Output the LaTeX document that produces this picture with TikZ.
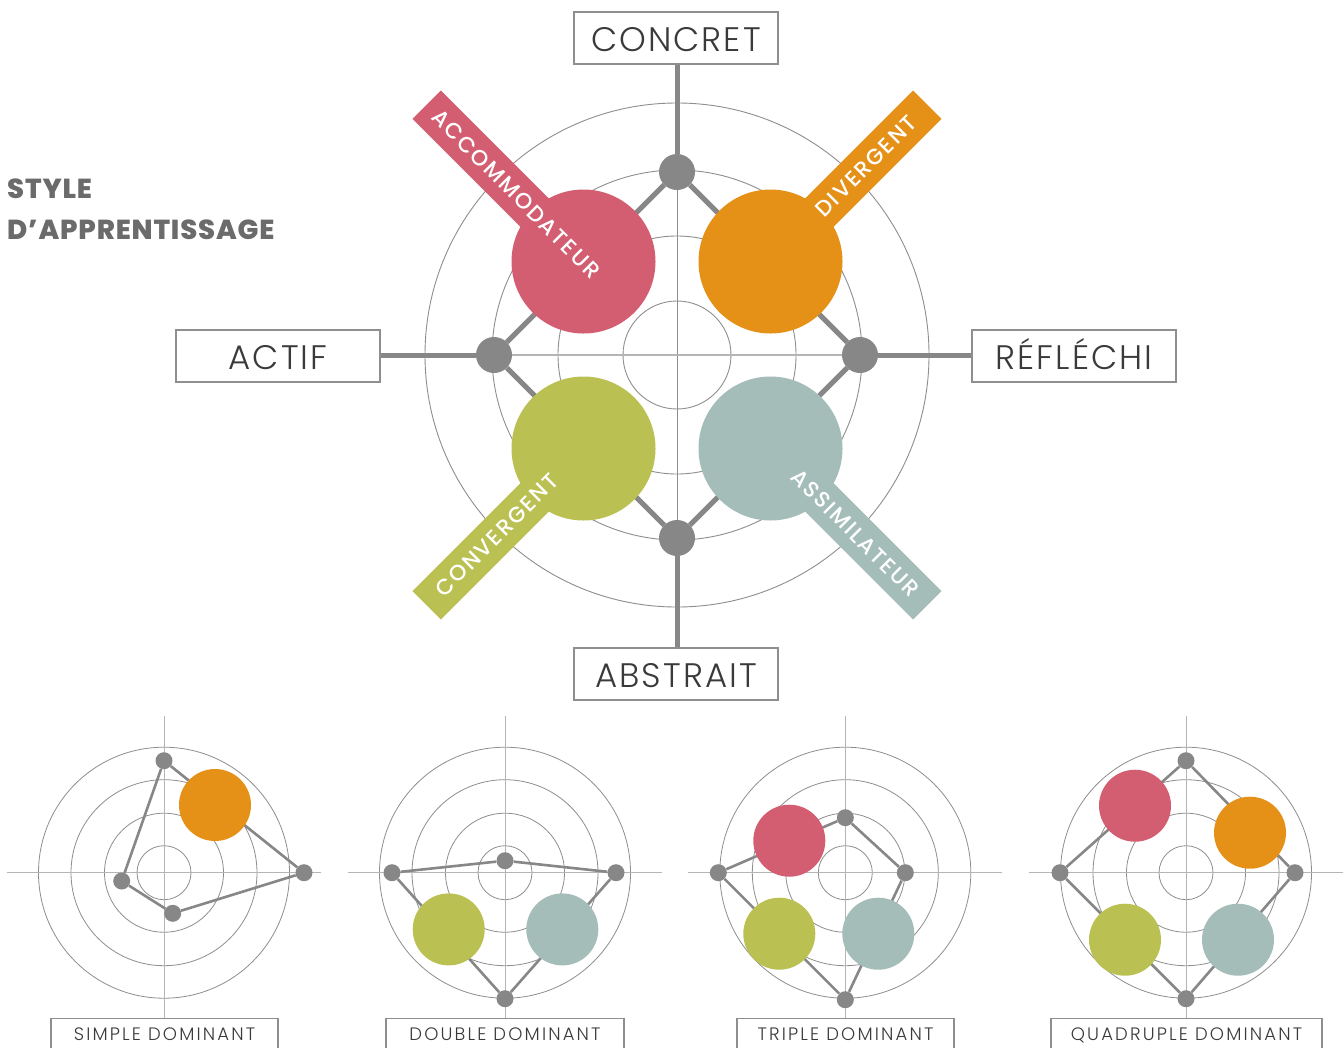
\documentclass[tikz,border=0pt]{standalone}
\usepackage{fontspec}
\setmainfont{Poppins}
\IfFontExistsTF{Poppins Light}{\newfontfamily\labelfont{Poppins Light}}{\newfontfamily\labelfont{Poppins}}
\IfFontExistsTF{Poppins Medium}{\newfontfamily\bandfont{Poppins Medium}}{\newfontfamily\bandfont{Poppins}}
\IfFontExistsTF{Poppins ExtraBold}{\newfontfamily\titlefont{Poppins ExtraBold}}{\newfontfamily\titlefont{Poppins}[UprightFont=*-Bold]}
\usetikzlibrary{calc}
\definecolor{pinkc}{HTML}{D45E71}
\definecolor{orangec}{HTML}{E59118}
\definecolor{greenc}{HTML}{BAC152}
\definecolor{tealc}{HTML}{A5BDB8}
\definecolor{dotc}{HTML}{878787}
\definecolor{linec}{HTML}{8E8E8E}
\definecolor{lightc}{HTML}{B5B5B5}
\definecolor{textc}{HTML}{3A3A3A}
\definecolor{titlec}{HTML}{6B6B6B}
\begin{document}
\begin{tikzpicture}[x=1pt,y=-1pt,
  ring/.style={draw=linec, line width=0.9pt},
  thinaxis/.style={draw=linec, line width=1pt},
  thickaxis/.style={draw=dotc, line width=5pt},
  diam/.style={draw=dotc, line width=5pt},
  bigdot/.style={circle, fill=dotc, inner sep=0pt, minimum size=36pt},
  smalldot/.style={circle, fill=dotc, inner sep=0pt, minimum size=17pt},
  bigdisc/.style={circle, inner sep=0pt, minimum size=144pt},
  smalldisc/.style={circle, inner sep=0pt, minimum size=72pt},
  band/.style={rectangle, inner sep=0pt, minimum width=223pt, minimum height=40pt},
  bandtext/.style={text=white, font=\bandfont\fontsize{22}{22}\selectfont\addfontfeatures{LetterSpace=8}, inner sep=0pt},
  bigbox/.style={draw=linec, line width=1.8pt, fill=white, minimum width=204pt, minimum height=52pt,
     inner sep=0pt, text height=27pt, text depth=0pt, text=textc,
     font=\labelfont\fontsize{34}{34}\selectfont\addfontfeatures{LetterSpace=6}},
  smallbox/.style={draw=linec, line width=1.2pt, fill=white, anchor=north, minimum height=32pt,
     inner sep=0pt, text height=12.5pt, text depth=0pt, text=textc,
     font=\labelfont\fontsize{18}{18}\selectfont\addfontfeatures{LetterSpace=12}},
  titletext/.style={anchor=base west, inner sep=0pt, text=titlec,
     font=\titlefont\fontsize{27.5}{27.5}\selectfont\addfontfeatures{LetterSpace=3}},
  sring/.style={draw=linec, line width=0.8pt},
  saxis/.style={draw=lightc, line width=1pt},
  sedge/.style={draw=dotc, line width=2.6pt}
]
\useasboundingbox (0,0) rectangle (1343,1047);
\fill[white] (0,0) rectangle (1343,1047);

% ---------- title ----------
\node[titletext] (title1) at (7,198) {STYLE};
\node[titletext] (title2) at (7,239) {D’APPRENTISSAGE};

% ---------- main chart ----------
\coordinate (C) at (677,355);
\foreach \r in {54,119,185,252} \draw[ring] (C) circle[radius=\r];

\node[bigbox] (concret) at (676,38) {CONCRET};
\node[bigbox] (actif) at (278,356) {ACTIF};
\node[bigbox] (reflechi) at (1074,356) {RÉFLÉCHI};
\node[bigbox] (abstrait) at (676,674) {ABSTRAIT};

\node[bigdot] (t) at (677,172) {};
\node[bigdot] (b) at (677,538) {};
\node[bigdot] (l) at (494,355) {};
\node[bigdot] (r) at (860,355) {};

\draw[thinaxis] (t) -- (b);
\draw[draw=lightc, line width=1.2pt] (l) -- (r);
\draw[thickaxis] (t |- concret.south) -- (t);
\draw[thickaxis] (b |- abstrait.north) -- (b);
\draw[thickaxis] (actif.east |- l) -- (l);
\draw[thickaxis] (reflechi.west |- r) -- (r);

\draw[diam] (t) -- (r);
\draw[diam] (r) -- (b);
\draw[diam] (b) -- (l);
\draw[diam] (l) -- (t);

\node[bigdisc, fill=pinkc] (acc) at (583.5,261.5) {};
\node[bigdisc, fill=orangec] (div) at (770.5,261.5) {};
\node[bigdisc, fill=greenc] (conv) at (583.5,448.5) {};
\node[bigdisc, fill=tealc] (assim) at (770.5,448.5) {};

\node[band, fill=pinkc, rotate=135] (accband) at ($(C)+(-171.5,-171.5)$) {};
\node[band, fill=orangec, rotate=45] (divband) at ($(C)+(171.5,-171.5)$) {};
\node[band, fill=greenc, rotate=45] (convband) at ($(C)+(-171.5,171.5)$) {};
\node[band, fill=tealc, rotate=-45] (assimband) at ($(C)+(171.5,171.5)$) {};

\node[bandtext, rotate=-45] (acctxt) at ($(C)+(-161,-161)$) {ACCOMMODATEUR};
\node[bandtext, rotate=45] (divtxt) at ($(C)+(189,-189)$) {DIVERGENT};
\node[bandtext, rotate=45] (convtxt) at ($(C)+(-180,180)$) {CONVERGENT};
\node[bandtext, rotate=-45] (assimtxt) at ($(C)+(178,178)$) {ASSIMILATEUR};

% ---------- small charts ----------
% simple
\begin{scope}[shift={(164,872.7)}]
  \foreach \r in {27,59.5,93,125.5} \draw[sring] (0,0) circle[radius=\r];
  \draw[saxis] (-157,0) -- (157,0);
  \draw[saxis] (0,-157) -- (0,146);
  \node[smalldot] (s1t) at (0,-112) {};
  \node[smalldot] (s1r) at (140,0) {};
  \node[smalldot] (s1b) at (8.7,40.6) {};
  \node[smalldot] (s1l) at (-42.3,8.3) {};
  \draw[sedge] (s1t) -- (s1r);
  \draw[sedge] (s1r) -- (s1b);
  \draw[sedge] (s1b) -- (s1l);
  \draw[sedge] (s1l) -- (s1t);
  \node[smalldisc, fill=orangec] (s1o) at (51,-67.7) {};
\end{scope}
\node[smallbox, minimum width=227pt] (box1) at (164.5,1018) {SIMPLE DOMINANT};

% double
\begin{scope}[shift={(505,872.7)}]
  \foreach \r in {27,59.5,93,125.5} \draw[sring] (0,0) circle[radius=\r];
  \draw[saxis] (-157,0) -- (157,0);
  \draw[saxis] (0,-157) -- (0,146);
  \node[smalldot] (s2t) at (0,-12) {};
  \node[smalldot] (s2r) at (111,0) {};
  \node[smalldot] (s2b) at (0,126) {};
  \node[smalldot] (s2l) at (-113,0) {};
  \draw[sedge] (s2l) -- (s2t);
  \draw[sedge] (s2t) -- (s2r);
  \draw[sedge] (s2r) -- (s2b);
  \draw[sedge] (s2b) -- (s2l);
  \node[smalldisc, fill=greenc] (s2g) at (-56.3,56.7) {};
  \node[smalldisc, fill=tealc] (s2a) at (57.3,56.7) {};
\end{scope}
\node[smallbox, minimum width=238pt] (box2) at (505,1018) {DOUBLE DOMINANT};

% triple
\begin{scope}[shift={(845.3,872.7)}]
  \foreach \r in {27,59.5,93,125.5} \draw[sring] (0,0) circle[radius=\r];
  \draw[saxis] (-157,0) -- (157,0);
  \draw[saxis] (0,-157) -- (0,146);
  \node[smalldot] (s3t) at (0,-55) {};
  \node[smalldot] (s3r) at (60,0) {};
  \node[smalldot] (s3b) at (0,127) {};
  \node[smalldot] (s3l) at (-127,0) {};
  \draw[sedge] (s3t) -- (s3r);
  \draw[sedge] (s3r) -- (s3b);
  \draw[sedge] (s3b) -- (s3l);
  \draw[sedge] (s3l) -- (s3t);
  \node[smalldisc, fill=pinkc] (s3p) at (-56,-32) {};
  \node[smalldisc, fill=greenc] (s3g) at (-66,61) {};
  \node[smalldisc, fill=tealc] (s3a) at (33,61) {};
\end{scope}
\node[smallbox, minimum width=217pt] (box3) at (845.5,1018) {TRIPLE DOMINANT};

% quadruple
\begin{scope}[shift={(1186,872.7)}]
  \foreach \r in {27,59.5,93,125.5} \draw[sring] (0,0) circle[radius=\r];
  \draw[saxis] (-157,0) -- (157,0);
  \draw[saxis] (0,-157) -- (0,146);
  \node[smalldot] (s4t) at (0,-112) {};
  \node[smalldot] (s4r) at (109,0) {};
  \node[smalldot] (s4b) at (0,126) {};
  \node[smalldot] (s4l) at (-126,0) {};
  \draw[sedge] (s4t) -- (s4r);
  \draw[sedge] (s4r) -- (s4b);
  \draw[sedge] (s4b) -- (s4l);
  \draw[sedge] (s4l) -- (s4t);
  \node[smalldisc, fill=pinkc] (s4p) at (-51,-67) {};
  \node[smalldisc, fill=orangec] (s4o) at (64,-40) {};
  \node[smalldisc, fill=greenc] (s4g) at (-61,67) {};
  \node[smalldisc, fill=tealc] (s4a) at (52,67) {};
\end{scope}
\node[smallbox, minimum width=271pt] (box4) at (1186.5,1018) {QUADRUPLE DOMINANT};
\end{tikzpicture}
\end{document}
